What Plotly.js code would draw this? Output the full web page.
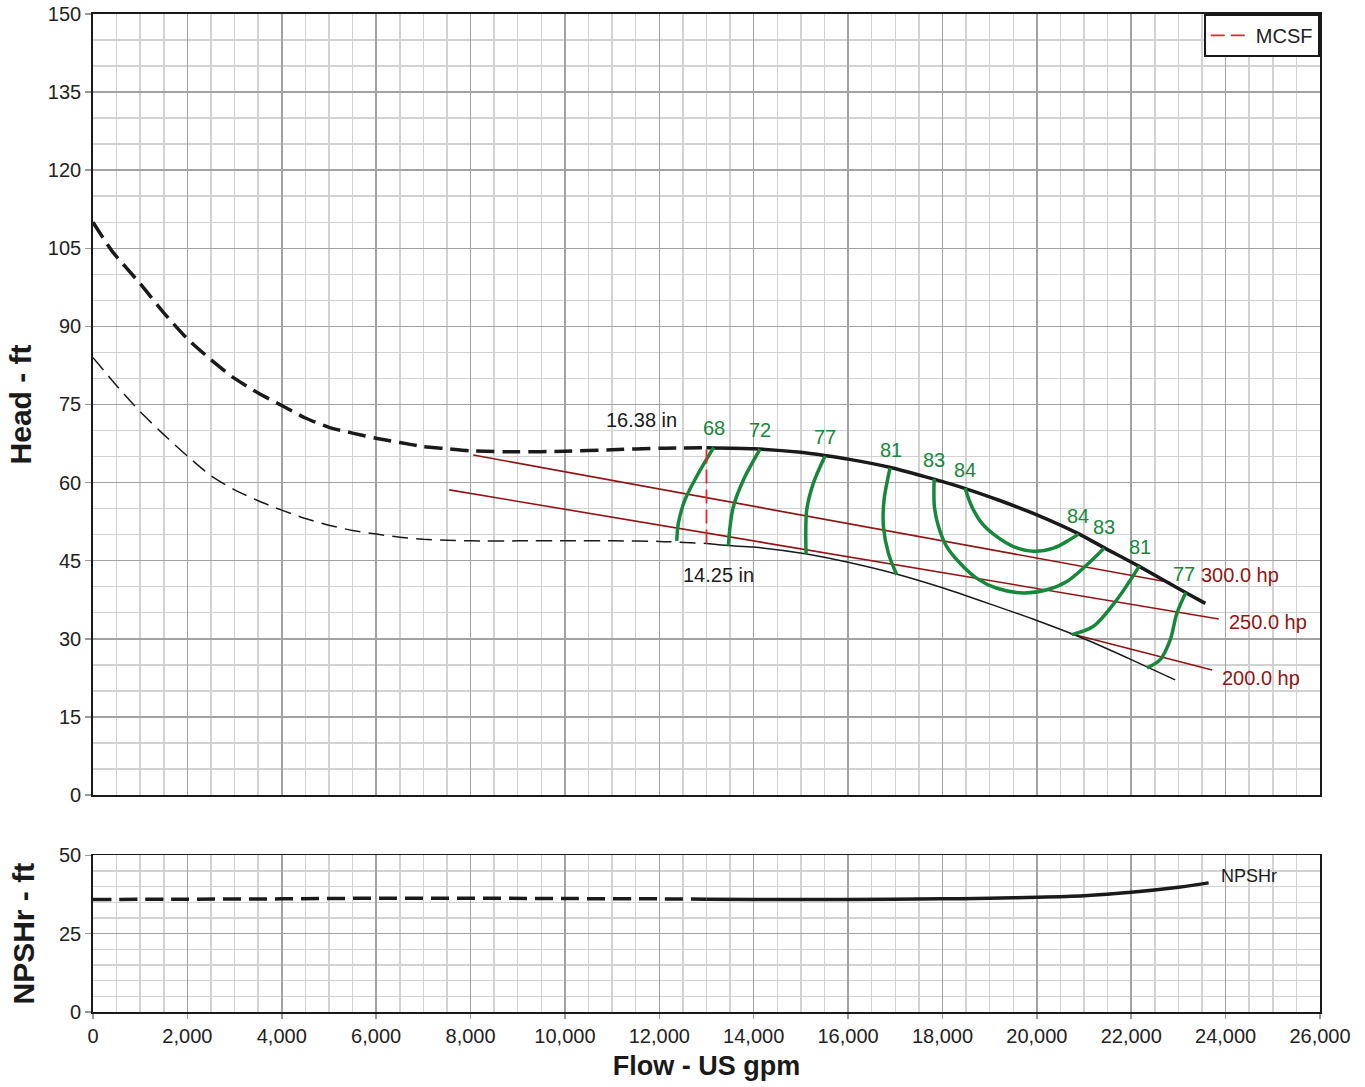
<!DOCTYPE html>
<html>
<head>
<meta charset="utf-8">
<script src="https://cdn.plot.ly/plotly-3.0.1.min.js"></script>
<style>
  html, body { margin: 0; padding: 0; background: #fff; }
  #chart { width: 1365px; height: 1087px; }
</style>
</head>
<body>
<div id="chart"></div>
<script>
// ---------- Data ----------
// Impeller 16.38 in head curve (dashed part left of MCSF, solid right)
const flow1638Dash = [0, 400, 1000, 1500, 2000, 2500, 3000, 3500, 4000, 4500, 5000, 5500, 6000, 6500, 7000, 7500, 8000, 9000, 10000, 11000, 12000, 13000];
const head1638Dash = [110, 104.5, 98.2, 92.6, 87.6, 83.6, 80.0, 77.2, 74.8, 72.4, 70.6, 69.5, 68.5, 67.7, 66.9, 66.5, 66.1, 65.9, 66.0, 66.3, 66.6, 66.7];
const flow1638 = [13000, 14000, 15000, 15500, 16000, 16900, 17800, 18500, 19200, 20000, 20900, 21400, 22150, 23150, 23570];
const head1638 = [66.7, 66.5, 65.8, 65.2, 64.5, 62.9, 60.7, 58.8, 56.6, 53.8, 50.1, 47.6, 44.0, 38.9, 36.8];

// Impeller 14.25 in head curve
const flow1425Dash = [0, 500, 1000, 1500, 2000, 2500, 3000, 3500, 4000, 4500, 5000, 5500, 6000, 6500, 7000, 7500, 8000, 9000, 10000, 11000, 12000, 13000];
const head1425Dash = [84.0, 78.6, 73.6, 69.2, 65.1, 61.3, 58.6, 56.5, 54.7, 53.1, 51.8, 50.8, 50.1, 49.5, 49.1, 48.9, 48.8, 48.8, 48.8, 48.8, 48.7, 48.3];
const flow1425 = [13000, 13465, 14000, 15125, 16000, 17000, 18000, 19000, 20000, 21000, 22000, 22930];
const head1425 = [48.3, 47.9, 47.6, 46.3, 44.7, 42.5, 39.8, 36.7, 33.5, 30.0, 26.0, 22.1];

// Efficiency iso-lines (%)
const eff68Flow = [13150, 12793, 12545, 12404, 12370];
const eff68Head = [66.7, 61.2, 56.7, 52.2, 48.8];
const eff72Flow = [14135, 13782, 13570, 13500, 13465];
const eff72Head = [66.4, 60.5, 55.4, 51.6, 47.9];
const eff77aFlow = [15513, 15265, 15124, 15104, 15110];
const eff77aHead = [65.1, 59.9, 54.8, 50.3, 46.3];
const eff81aFlow = [16890, 16763, 16749, 16855, 17032];
const eff81aHead = [62.8, 56.7, 51.6, 46.4, 42.3];
const eff83Flow = [17823, 17829, 17914, 18090, 18373, 18728, 19152, 19717, 20212, 20636, 21060, 21425];
const eff83Head = [60.7, 55.4, 51.6, 47.7, 44.5, 41.6, 39.7, 38.8, 39.4, 41.0, 44.2, 47.4];
const eff84Flow = [18480, 18621, 18833, 19152, 19505, 19929, 20353, 20636, 20882];
const eff84Head = [58.9, 55.4, 52.2, 49.6, 47.7, 46.8, 47.4, 48.7, 50.1];
const eff81bFlow = [22174, 21695, 21200, 20742];
const eff81bHead = [44.0, 37.5, 32.4, 30.8];
const eff77bFlow = [23158, 22967, 22826, 22614, 22332];
const eff77bHead = [38.9, 34.9, 29.8, 26.0, 24.4];

// Power lines (hp)
const hp300Flow = [8057, 22826];
const hp300Head = [65.3, 40.8];
const hp250Flow = [7548, 23855];
const hp250Head = [58.6, 33.8];
const hp200Flow = [20705, 23716];
const hp200Head = [31.0, 24.0];

// Minimum continuous stable flow
const mcsfFlow = [13000, 13000];
const mcsfHead = [48.3, 66.7];

// NPSHr
const npshFlowDash = [0, 2000, 4000, 6000, 8000, 10000, 12000, 13000];
const npshDash = [35.9, 36.0, 36.1, 36.3, 36.3, 36.2, 36.1, 36.0];
const npshFlow = [13000, 14000, 16000, 18000, 19000, 20000, 21000, 22000, 23000, 23640];
const npsh = [36.0, 35.9, 35.9, 36.1, 36.3, 36.6, 37.1, 38.2, 39.8, 41.2];

// Labels
const effLabels = ["68", "72", "77", "81", "83", "84", "84", "83", "81", "77"];
const effLabelFlow = [13158, 14134, 15512, 16911, 17822, 18480, 20876, 21427, 22190, 23123];
const effLabelHead = [70.5, 70.1, 68.8, 66.3, 64.4, 62.5, 53.6, 51.5, 47.6, 42.5];
const hpLabels = ["300.0 hp", "250.0 hp", "200.0 hp"];
const hpLabelFlow = [24311, 24904, 24756];
const hpLabelHead = [42.3, 33.3, 22.5];
const diaLabels = ["16.38 in", "14.25 in"];
const diaLabelFlow = [11632, 13244];
const diaLabelHead = [72.0, 42.3];

// ---------- Styling ----------
const SANS = "Liberation Sans, Arial, Helvetica, sans-serif";
const GREEN = "#17873b";
const DARKRED = "#8e1616";
const BLACK = "#1a1a1a";

function headTrace(x, y, line, extra) {
  return Object.assign({ x: x, y: y, xaxis: "x2", yaxis: "y", mode: "lines", line: line, showlegend: false, hoverinfo: "skip" }, extra || {});
}
const green = { color: GREEN, width: 3.5, shape: "spline", smoothing: 0.9 };

const traces = [
  headTrace(hp300Flow, hp300Head, { color: DARKRED, width: 1.6 }),
  headTrace(hp250Flow, hp250Head, { color: DARKRED, width: 1.6 }),
  headTrace(hp200Flow, hp200Head, { color: DARKRED, width: 1.6 }),
  headTrace(flow1638Dash, head1638Dash, { color: BLACK, width: 3.5, dash: "18px,8px", shape: "spline", smoothing: 0.6 }),
  headTrace(flow1638, head1638, { color: BLACK, width: 3.5, shape: "spline", smoothing: 0.6 }),
  headTrace(flow1425Dash, head1425Dash, { color: BLACK, width: 1.5, dash: "16px,8px", shape: "spline", smoothing: 0.6 }),
  headTrace(flow1425, head1425, { color: BLACK, width: 1.5, shape: "spline", smoothing: 0.6 }),
  headTrace(eff68Flow, eff68Head, green),
  headTrace(eff72Flow, eff72Head, green),
  headTrace(eff77aFlow, eff77aHead, green),
  headTrace(eff81aFlow, eff81aHead, green),
  headTrace(eff83Flow, eff83Head, green),
  headTrace(eff84Flow, eff84Head, green),
  headTrace(eff81bFlow, eff81bHead, green),
  headTrace(eff77bFlow, eff77bHead, green),
  headTrace(mcsfFlow, mcsfHead, { color: "#e8262b", width: 1.8, dash: "14px,6px" }, { name: "MCSF", showlegend: true }),
  { x: npshFlowDash, y: npshDash, xaxis: "x", yaxis: "y2", mode: "lines", showlegend: false, hoverinfo: "skip",
    line: { color: BLACK, width: 3.5, dash: "18px,8px", shape: "spline" } },
  { x: npshFlow, y: npsh, xaxis: "x", yaxis: "y2", mode: "lines", showlegend: false, hoverinfo: "skip",
    line: { color: BLACK, width: 3.5, shape: "spline", smoothing: 0.8 } }
];

const annotations = [];
effLabels.forEach((t, i) => annotations.push({ text: t, x: effLabelFlow[i], y: effLabelHead[i], xref: "x2", yref: "y",
  showarrow: false, xanchor: "center", yanchor: "middle", font: { family: SANS, size: 20, color: GREEN } }));
hpLabels.forEach((t, i) => annotations.push({ text: t, x: hpLabelFlow[i], y: hpLabelHead[i], xref: "x2", yref: "y",
  showarrow: false, xanchor: "center", yanchor: "middle", font: { family: SANS, size: 20, color: DARKRED } }));
diaLabels.forEach((t, i) => annotations.push({ text: t, x: diaLabelFlow[i], y: diaLabelHead[i], xref: "x2", yref: "y",
  showarrow: false, xanchor: "center", yanchor: "middle", font: { family: SANS, size: 20, color: BLACK } }));
annotations.push({ text: "NPSHr", x: 24500, y: 43.5, xref: "x", yref: "y2", showarrow: false,
  xanchor: "center", yanchor: "middle", font: { family: SANS, size: 18, color: BLACK } });

const gridMajor = "#a2a2a2";
const gridMinor = "#d2d2d2";
const tickFont = { family: SANS, size: 20, color: "#222" };

const xCommon = {
  range: [0, 26000], dtick: 2000, tick0: 0, showgrid: true, gridcolor: gridMajor, gridwidth: 1.5,
  minor: { dtick: 500, showgrid: true, gridcolor: gridMinor, gridwidth: 1.5 },
  showline: true, linecolor: BLACK, linewidth: 1.8, mirror: true, zeroline: false, fixedrange: true
};
const yCommon = {
  showgrid: true, gridcolor: gridMajor, gridwidth: 1.5,
  showline: true, linecolor: BLACK, linewidth: 1.8, mirror: true, zeroline: false,
  ticks: "outside", ticklen: 6, tickcolor: "#999", tickwidth: 1.5, tickfont: tickFont, fixedrange: true
};

const layout = {
  width: 1365, height: 1087,
  margin: { l: 93, r: 45, t: 14, b: 75 },
  paper_bgcolor: "#fff", plot_bgcolor: "#fff",
  showlegend: true,
  legend: { x: 1, y: 1, xanchor: "right", yanchor: "top", bgcolor: "#fff", bordercolor: BLACK, borderwidth: 1.8,
    font: { family: SANS, size: 20, color: "#222" }, itemwidth: 40, tracegroupgap: 0 },
  xaxis: Object.assign({}, xCommon, { anchor: "y2", domain: [0, 1], tickformat: ",d",
    ticks: "outside", ticklen: 5, tickcolor: "#999", tickwidth: 1.5, tickfont: tickFont,
    title: { text: "Flow - US gpm", font: { family: SANS, size: 27, color: BLACK, weight: "bold" }, standoff: 10 } }),
  xaxis2: Object.assign({}, xCommon, { anchor: "y", matches: "x", showticklabels: false, ticks: "" }),
  yaxis: Object.assign({}, yCommon, { anchor: "x2", domain: [0.2175, 1], range: [0, 150], dtick: 15, tick0: 0,
    minor: { dtick: 5, showgrid: true, gridcolor: gridMinor, gridwidth: 1.5 },
    title: { text: "Head - ft", font: { family: SANS, size: 30, color: BLACK, weight: "bold" }, standoff: 7 } }),
  yaxis2: Object.assign({}, yCommon, { anchor: "x", domain: [0, 0.157], range: [0, 50], dtick: 25, tick0: 0,
    minor: { dtick: 5, showgrid: true, gridcolor: gridMinor, gridwidth: 1.5 },
    title: { text: "NPSHr - ft", font: { family: SANS, size: 30, color: BLACK, weight: "bold" }, standoff: 15 } }),
  annotations: annotations
};

Plotly.newPlot("chart", traces, layout, { displayModeBar: false, staticPlot: true });
</script>
</body>
</html>
